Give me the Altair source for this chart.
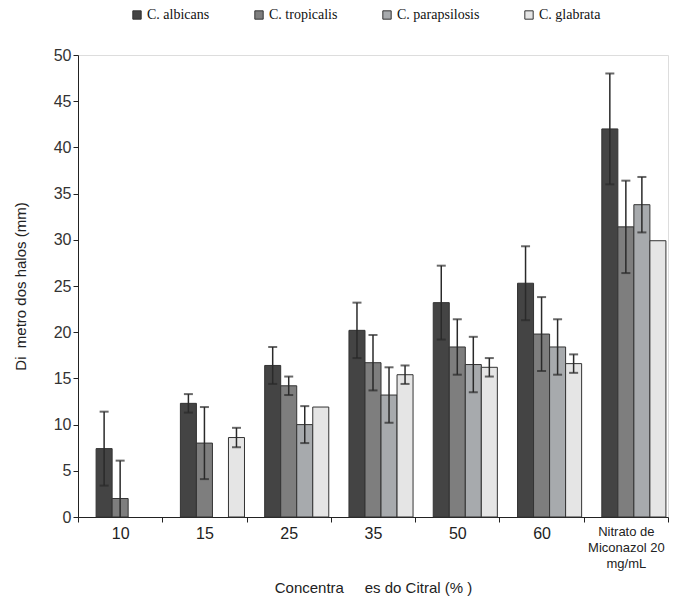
import altair as alt
import pandas as pd

categories = ["10", "15", "25", "35", "50", "60", "Nitrato de Miconazol 20 mg/mL"]
species = ["C. albicans", "C. tropicalis", "C. parapsilosis", "C. glabrata"]

albicans = [7.4, 12.3, 16.4, 20.2, 23.2, 25.3, 42.0]
albicans_err = [4.0, 1.0, 2.0, 3.0, 4.0, 4.0, 6.0]
tropicalis = [2.0, 8.0, 14.2, 16.7, 18.4, 19.8, 31.4]
tropicalis_err = [4.1, 3.9, 1.0, 3.0, 3.0, 4.0, 5.0]
parapsilosis = [None, None, 10.0, 13.2, 16.5, 18.4, 33.8]
parapsilosis_err = [None, None, 2.0, 3.0, 3.0, 3.0, 3.0]
glabrata = [None, 8.6, 11.9, 15.4, 16.2, 16.6, 29.9]
glabrata_err = [None, 1.05, 0.0, 1.0, 1.0, 1.0, 0.0]

colors = ["#444444", "#7e7e7e", "#a7aaad", "#e5e5e5"]

series = [(albicans, albicans_err), (tropicalis, tropicalis_err),
          (parapsilosis, parapsilosis_err), (glabrata, glabrata_err)]
rows = []
for sp, (vals, errs) in zip(species, series):
    for cat, v, e in zip(categories, vals, errs):
        if v is None:
            continue
        rows.append({"cat": cat, "species": sp, "value": v, "err": e,
                     "lo": max(0.0, v - e), "hi": v + e})
df = pd.DataFrame(rows)

slots = ["_pad"] + species
NITRATO = "Nitrato de Miconazol 20 mg/mL"
NB = "\u00a0"

xaxis = alt.Axis(
    title="Concentra" + NB * 5 + "es do Citral (%" + NB + ")",
    titleFont="Liberation Sans", titleFontSize=15, titleFontWeight="normal",
    titleColor="#222", titlePadding=10,
    labelAngle=0, labelFont="Liberation Sans",
    labelFontSize={"condition": {"test": f"datum.value == '{NITRATO}'", "value": 13}, "value": 16},
    labelColor="#222", labelPadding=3, labelLineHeight=16,
    labelExpr=f"datum.value == '{NITRATO}' ? ['Nitrato de', 'Miconazol 20', 'mg/mL'] : datum.label",
    tickBand="extent", tickSize=5, tickColor="#222", domainColor="#222",
    labelLimit=200,
)
x = alt.X("cat:N", sort=categories, scale=alt.Scale(paddingInner=0, paddingOuter=0), axis=xaxis)
xoff = alt.XOffset("species:N", scale=alt.Scale(domain=slots, paddingInner=0, paddingOuter=0.13))

yaxis = alt.Axis(
    title="Di" + NB * 2 + "metro dos halos (mm)", titleFont="Liberation Sans", titleFontSize=15,
    titleFontWeight="normal", titleColor="#222", titlePadding=25,
    values=list(range(0, 55, 5)), labelFont="Liberation Sans", labelFontSize=16,
    labelColor="#333", labelPadding=2, tickSize=5, tickColor="#222", domainColor="#222",
    grid=False,
)
yscale = alt.Scale(domain=[0, 50], nice=False)

base = alt.Chart(df)

bars = base.mark_bar(stroke="#333333", strokeWidth=1).encode(
    x=x, xOffset=xoff,
    y=alt.Y("value:Q", scale=yscale, axis=yaxis),
    color=alt.Color("species:N", scale=alt.Scale(domain=species, range=colors),
                    legend=alt.Legend(orient="none", legendX=52, legendY=-47,
                                      direction="horizontal", title=None,
                                      symbolType="square", symbolSize=70,
                                      symbolStrokeColor="#333333", symbolStrokeWidth=1,
                                      labelFont="Liberation Serif", labelFontSize=14,
                                      labelColor="#111", columnPadding=42, labelOffset=3)),
)

err = base.transform_filter("datum.err > 0")
rules = err.mark_rule(color="#2a2a2a", strokeWidth=1.5).encode(
    x=x, xOffset=xoff,
    y=alt.Y("lo:Q", scale=yscale, axis=yaxis), y2="hi:Q",
)
cap_hi = err.mark_tick(color="#2a2a2a", thickness=2, size=9).encode(
    x=x, xOffset=xoff, y=alt.Y("hi:Q", scale=yscale, axis=yaxis),
)
cap_lo = err.transform_filter("datum.lo > 0").mark_tick(color="#2a2a2a", thickness=2, size=9).encode(
    x=x, xOffset=xoff, y=alt.Y("lo:Q", scale=yscale, axis=yaxis),
)

chart = alt.layer(bars, rules, cap_hi, cap_lo).properties(
    width=590, height=462,
    padding={"left": 5, "top": 0, "right": 5, "bottom": 5},
).configure_view(stroke=None).configure(background="white")

chart.save("out.html", embed_options={"renderer": "svg", "actions": False})
